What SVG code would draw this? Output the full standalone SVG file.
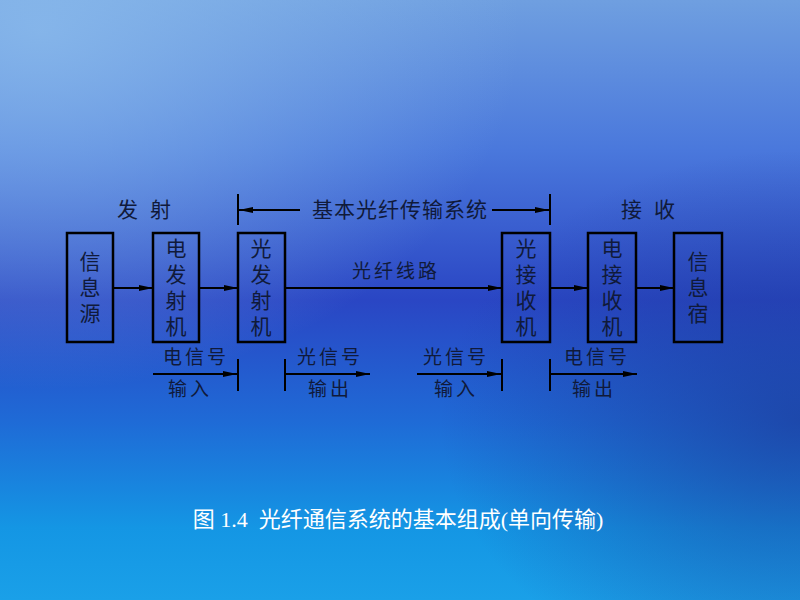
<svg xmlns="http://www.w3.org/2000/svg" width="800" height="600" viewBox="0 0 800 600">
<defs>
<linearGradient id="bg" x1="0" y1="0" x2="0" y2="1">
<stop offset="0" stop-color="#6f9fe0"/>
<stop offset="0.25" stop-color="#4a78dc"/>
<stop offset="0.5" stop-color="#2a46c4"/>
<stop offset="0.7" stop-color="#1f6ad6"/>
<stop offset="0.88" stop-color="#1496e4"/>
<stop offset="1" stop-color="#1aa0e8"/>
</linearGradient>
<radialGradient id="tl" cx="0.05" cy="0.05" r="0.6">
<stop offset="0" stop-color="#8cbcec" stop-opacity="0.8"/>
<stop offset="1" stop-color="#8cbcec" stop-opacity="0"/>
</radialGradient>
<radialGradient id="rt" cx="1" cy="0.7" r="0.45">
<stop offset="0" stop-color="#1c3a9a" stop-opacity="0.7"/>
<stop offset="1" stop-color="#1c3a9a" stop-opacity="0"/>
</radialGradient>
<marker id="ah" viewBox="0 0 14 6" refX="14" refY="3" markerWidth="14" markerHeight="6" markerUnits="userSpaceOnUse" orient="auto">
<path d="M0,0 L14,3 L0,6 Z" fill="#000"/>
</marker>
<style>
.box{fill:none;stroke:#000;stroke-width:2.5}
.ln{stroke:#000;stroke-width:2;fill:none}
.lna{stroke:#000;stroke-width:2;fill:none;marker-end:url(#ah)}
.t{font-family:"Noto Sans CJK SC","Noto Sans",sans-serif;font-size:21px;fill:#101a3a;text-anchor:middle}
.v{font-family:"Noto Sans CJK SC","Noto Sans",sans-serif;font-size:21px;fill:#101a3a;text-anchor:middle;writing-mode:vertical-rl;letter-spacing:5px}
.s{font-family:"Noto Sans CJK SC","Noto Sans",sans-serif;font-size:19px;fill:#101a3a;text-anchor:middle;letter-spacing:3px}
.cap{font-family:"Liberation Serif","Noto Sans CJK SC",serif;font-size:22px;fill:#ffffff;text-anchor:middle;white-space:pre}
</style>
</defs>
<rect width="800" height="600" fill="url(#bg)"/>
<rect width="800" height="600" fill="url(#tl)"/>
<rect width="800" height="600" fill="url(#rt)"/>

<g id="n1"><rect class="box" x="67" y="233" width="46" height="109"/>
<text class="v" x="90" y="290">信息源</text></g>
<g id="n2"><rect class="box" x="153" y="233" width="46" height="109"/>
<text class="v" x="176" y="290">电发射机</text></g>
<g id="n3"><rect class="box" x="238" y="233" width="47" height="109"/>
<text class="v" x="261" y="290">光发射机</text></g>
<g id="n4"><rect class="box" x="502" y="233" width="48" height="109"/>
<text class="v" x="526" y="290">光接收机</text></g>
<g id="n5"><rect class="box" x="588" y="233" width="48" height="109"/>
<text class="v" x="612" y="290">电接收机</text></g>
<g id="n6"><rect class="box" x="674" y="233" width="48" height="109"/>
<text class="v" x="698" y="290">信息宿</text></g>

<g id="connectors">
<line class="lna" x1="113" y1="288" x2="153" y2="288"/>
<line class="lna" x1="199" y1="288" x2="238" y2="288"/>
<line class="lna" x1="285" y1="288" x2="502" y2="288"/>
<line class="lna" x1="550" y1="288" x2="588" y2="288"/>
<line class="lna" x1="636" y1="288" x2="674" y2="288"/>
<line class="ln" x1="238" y1="194" x2="238" y2="225"/>
<line class="ln" x1="550" y1="194" x2="550" y2="225"/>
<line class="lna" x1="300" y1="210" x2="239" y2="210"/>
<line class="lna" x1="492" y1="210" x2="549" y2="210"/>
<line class="lna" x1="153" y1="374" x2="237" y2="374"/>
<line class="ln" x1="238" y1="359" x2="238" y2="391"/>
<line class="ln" x1="285" y1="359" x2="285" y2="391"/>
<line class="lna" x1="285" y1="374" x2="370" y2="374"/>
<line class="lna" x1="417" y1="374" x2="501" y2="374"/>
<line class="ln" x1="502" y1="359" x2="502" y2="391"/>
<line class="ln" x1="550" y1="359" x2="550" y2="391"/>
<line class="lna" x1="550" y1="374" x2="637" y2="374"/>
</g>

<g id="labels">
<text class="t" x="150" y="217" style="letter-spacing:12px">发射</text>
<text class="t" x="654" y="217" style="letter-spacing:12px">接收</text>
<text class="t" x="400" y="217" style="letter-spacing:1px">基本光纤传输系统</text>
<text class="s" x="396" y="278">光纤线路</text>
<text class="s" x="196" y="364">电信号</text>
<text class="s" x="190" y="396">输入</text>
<text class="s" x="330" y="364">光信号</text>
<text class="s" x="330" y="396">输出</text>
<text class="s" x="456" y="364">光信号</text>
<text class="s" x="456" y="396">输入</text>
<text class="s" x="597" y="364">电信号</text>
<text class="s" x="594" y="396">输出</text>
<text class="cap" x="398" y="527" xml:space="preserve">图 1.4  光纤通信系统的基本组成(单向传输)</text>
</g>
</svg>
